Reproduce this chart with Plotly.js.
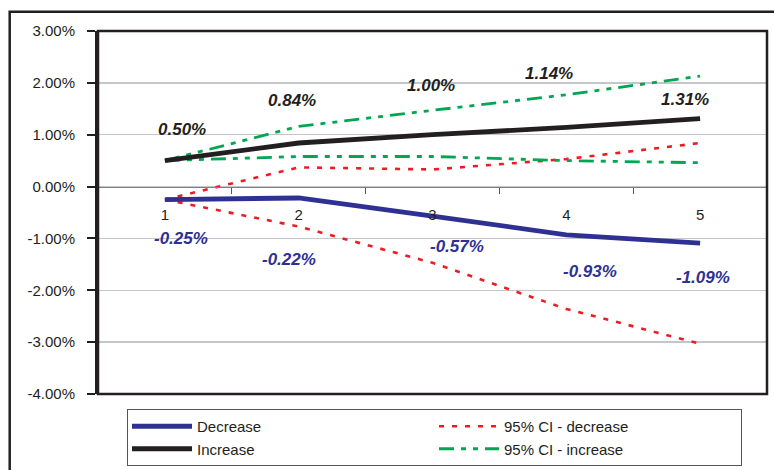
<!DOCTYPE html>
<html>
<head>
<meta charset="utf-8">
<script src="https://cdn.plot.ly/plotly-3.0.1.min.js"></script>
<style>
html,body{margin:0;padding:0;background:#fff;}
#chart{width:774px;height:470px;}
</style>
</head>
<body>
<div id="chart"></div>
<script>
// ---- data (percent) ----
const periods = ['1', '2', '3', '4', '5'];
const decrease = [-0.25, -0.22, -0.57, -0.93, -1.09];
const increase = [0.50, 0.84, 1.00, 1.14, 1.31];
const ciDecreaseUpper = [-0.25, 0.37, 0.33, 0.53, 0.84];
const ciDecreaseLower = [-0.25, -0.77, -1.47, -2.36, -3.03];
const ciIncreaseUpper = [0.50, 1.16, 1.47, 1.77, 2.13];
const ciIncreaseLower = [0.50, 0.58, 0.58, 0.50, 0.46];
const yTickVals = [-4, -3, -2, -1, 0, 1, 2, 3];
const yTickText = ['-4.00%', '-3.00%', '-2.00%', '-1.00%', '0.00%', '1.00%', '2.00%', '3.00%'];

// ---- label placement (pixel offsets, style only) ----
const decLabelDx = [16, -10, 24, 24, 3];
const decLabelDy = [-39, -62, -30, -37, -34];
const incLabelDx = [17, -7, -2, -17, -15];
const incLabelDy = [31, 43, 49, 54, 19];

const BLUE = '#2E3192', BLACK = '#231F20', RED = '#ED1C24', GREEN = '#00A651';
const FONT = 'Liberation Sans, Arial, Helvetica, sans-serif';
const RED_DASH = '5px,8px';
const GREEN_DASH = '15px,7px,5px,7px,5px,7px';

const data = [
  {x: periods, y: ciDecreaseLower, name: '95% CI - decrease', legendgroup: 'cid', legendrank: 2, mode: 'lines',
   line: {color: RED, width: 2.6, dash: RED_DASH}},
  {x: periods, y: ciDecreaseUpper, name: '95% CI - decrease', legendgroup: 'cid', showlegend: false, mode: 'lines',
   line: {color: RED, width: 2.6, dash: RED_DASH}},
  {x: periods, y: ciIncreaseUpper, name: '95% CI - increase', legendgroup: 'cii', legendrank: 4, mode: 'lines',
   line: {color: GREEN, width: 2.8, dash: GREEN_DASH}},
  {x: periods, y: ciIncreaseLower, name: '95% CI - increase', legendgroup: 'cii', showlegend: false, mode: 'lines',
   line: {color: GREEN, width: 2.8, dash: GREEN_DASH}},
  {x: periods, y: decrease, name: 'Decrease', legendrank: 1, mode: 'lines', line: {color: BLUE, width: 4.8}},
  {x: periods, y: increase, name: 'Increase', legendrank: 3, mode: 'lines', line: {color: BLACK, width: 4.8}}
];

const annotations = [];
periods.forEach((p, i) => {
  annotations.push({x: i, y: decrease[i], xref: 'x', yref: 'y', showarrow: false,
    text: '<b><i>' + decrease[i].toFixed(2) + '%</i></b>', xshift: decLabelDx[i], yshift: decLabelDy[i],
    font: {family: FONT, size: 17, color: BLUE}});
  annotations.push({x: i, y: increase[i], xref: 'x', yref: 'y', showarrow: false,
    text: '<b><i>' + increase[i].toFixed(2) + '%</i></b>', xshift: incLabelDx[i], yshift: incLabelDy[i],
    font: {family: FONT, size: 17, color: BLACK}});
});

const layout = {
  width: 774, height: 470,
  margin: {l: 98, r: 7, t: 31, b: 76},
  paper_bgcolor: '#fff', plot_bgcolor: '#fff',
  font: {family: FONT, size: 15, color: '#231F20'},
  showlegend: true,
  xaxis: {
    type: 'category', range: [-0.5, 4.5], anchor: 'free', position: 4 / 7,
    showline: true, linecolor: '#7F7F7F', linewidth: 1.5,
    ticks: 'outside', tickson: 'boundaries', ticklen: 6, tickcolor: '#555', tickwidth: 1,
    showgrid: false, zeroline: false, ticklabelstandoff: 14,
    tickfont: {family: FONT, size: 15, color: '#231F20'}
  },
  yaxis: {
    range: [-4, 3], tickvals: yTickVals, ticktext: yTickText,
    showgrid: true, gridcolor: '#C3C6CA', gridwidth: 1.5, zeroline: false,
    showline: true, linecolor: BLACK, linewidth: 3,
    ticks: 'outside', ticklen: 8, tickcolor: BLACK, tickwidth: 2,
    ticklabelstandoff: 9,
    tickfont: {family: FONT, size: 15, color: '#231F20'}
  },
  legend: {
    orientation: 'h', xref: 'container', yref: 'container',
    x: 127 / 774, xanchor: 'left', y: 1 - 409 / 470, yanchor: 'top',
    itemwidth: 60, entrywidth: 232, bordercolor: '#555', borderwidth: 1, bgcolor: '#fff',
    font: {family: FONT, size: 15, color: '#231F20'}, tracegroupgap: 0
  },
  annotations: annotations,
  shapes: [
    {type: 'rect', xref: 'paper', yref: 'paper', x0: 0, x1: 1, y0: 0, y1: 1,
     line: {color: BLACK, width: 2.5}, layer: 'above'},
    {type: 'rect', xref: 'paper', yref: 'paper', x0: -0.132, x1: 1.5, y0: -0.5, y1: 1.053,
     line: {color: BLACK, width: 2.5}, layer: 'below'}
  ]
};

Plotly.newPlot('chart', data, layout, {displayModeBar: false, staticPlot: true});
</script>
</body>
</html>
